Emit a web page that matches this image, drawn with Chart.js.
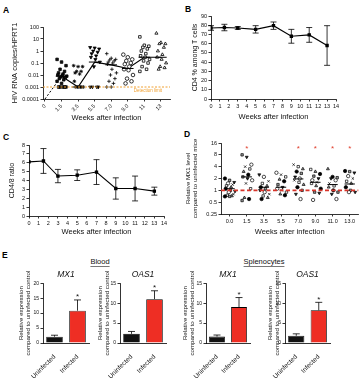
<!DOCTYPE html>
<html>
<head>
<meta charset="utf-8">
<script src="https://cdn.jsdelivr.net/npm/chart.js@4.4.1/dist/chart.umd.min.js"></script>
<style>
  body { margin: 0; background: #fff; font-family: "Liberation Sans", Arial, sans-serif; }
  #fig { position: relative; width: 363px; height: 379px; overflow: hidden; }
  canvas { position: absolute; }
  .lbl { position: absolute; font-weight: bold; font-size: 8.5px; line-height: 1; color: #000; }
  .grp { position: absolute; font-size: 7.5px; line-height: 1; color: #111; text-decoration: underline; text-decoration-color: #777; text-underline-offset: 1.5px; transform: translateX(-50%); }
</style>
</head>
<body>
<div id="fig">
  <div class="lbl" style="left:3px;top:6px">A</div>
  <div class="lbl" style="left:185px;top:5px">B</div>
  <div class="lbl" style="left:3px;top:133px">C</div>
  <div class="lbl" style="left:184px;top:130px">D</div>
  <div class="lbl" style="left:2px;top:251px">E</div>
  <div class="grp" style="left:100px;top:258px">Blood</div>
  <div class="grp" style="left:264px;top:258px">Splenocytes</div>

  <canvas id="cA" width="176" height="106" style="left:0;top:20px"></canvas>
  <canvas id="cB" width="181" height="115" style="left:182px;top:10px"></canvas>
  <canvas id="cC" width="182" height="103" style="left:0;top:137px"></canvas>
  <canvas id="cD" width="181" height="104" style="left:182px;top:136px"></canvas>
  <canvas id="cE1" width="92" height="111" style="left:0;top:268px"></canvas>
  <canvas id="cE2" width="75" height="111" style="left:95px;top:268px"></canvas>
  <canvas id="cE3" width="75" height="111" style="left:180px;top:268px"></canvas>
  <canvas id="cE4" width="80" height="111" style="left:260px;top:268px"></canvas>
</div>
<script>
// --- A: HIV RNA copies / HPRT1, one list per time point
const weeksA = ['0', '1.5', '3.5', '5.5', '7.0', '9.0', '11', '13'];
const hivWk0 = [];
const hivWk1_5 = [0.2, 0.12, 0.06, 0.03, 0.02, 0.015, 0.012, 0.01, 0.009, 0.008, 0.007, 0.006, 0.005, 0.004, 0.003, 0.002, 0.001, 0.001, 0.001, 0.001, 0.001];
const hivWk3_5 = [0.06, 0.05, 0.05, 0.02, 0.02, 0.015, 0.012, 0.003, 0.001, 0.001, 0.001, 0.001, 0.001, 0.001];
const hivWk5_5 = [2, 1.8, 1.5, 1, 0.8, 0.6, 0.4, 0.3, 0.2, 0.12, 0.05, 0.001, 0.001, 0.001, 0.001];
const hivWk7 = [0.6, 0.25, 0.2, 0.18, 0.15, 0.12, 0.1, 0.08, 0.03, 0.015, 0.01, 0.005, 0.003, 0.002, 0.001, 0.001];
const hivWk9 = [0.5, 0.3, 0.2, 0.15, 0.1, 0.08, 0.05, 0.03, 0.025, 0.01, 0.005, 0.003, 0.002];
const hivWk11 = [15, 3, 2.5, 2, 1.5, 1, 0.6, 0.4, 0.3, 0.2, 0.15, 0.1, 0.05, 0.03, 0.02];
const hivWk13 = [30, 5, 4, 4, 2, 1, 0.5, 0.3, 0.2, 0.1, 0.05, 0.04, 0.03];
const hivMeanA = [0.0001, 0.008, 0.001, 0.12, 0.07, 0.035, 0.3, 0.3];
const hivTicksA = [0.0001, 0.001, 0.01, 0.1, 1, 10, 100];
const detectionLimit = 0.001;

// --- B / C: CD4 % and CD4/8 ratio
const weeksBC = [0, 1.5, 3, 5, 7, 9, 11, 13];
const cd4Pct = [77, 77.5, 77, 75.5, 79.5, 68, 69.5, 58];
const cd4PctErr = [2.5, 3.5, 1.5, 4, 4, 7.5, 8, 21.5];
const cd48Ratio = [6.1, 6.2, 4.5, 4.6, 4.95, 3.1, 3.1, 2.8];
const cd48RatioErr = [0, 1.4, 0.75, 0.6, 1.4, 1.2, 1.4, 0.45];

// --- D: relative MX1 level, one list per time point
const weeksD = ['0.0', '1.5', '3.5', '5.5', '7.0', '9.0', '11.0', '13.0'];
const mx1Wk0 = [2, 1.8, 1.6, 1.5, 1.4, 1.3, 1.2, 1.1, 1.0, 0.95, 0.9, 0.8, 0.75, 0.72, 0.7, 0.7];
const mx1Wk1_5 = [8, 7, 4.5, 4, 3.5, 3, 2.5, 2.2, 2, 1.8, 1.5, 1.1, 0.65, 0.6, 0.55];
const mx1Wk3_5 = [2.5, 2.2, 1.7, 1.5, 1.3, 1.2, 1.1, 1.0, 0.9, 0.8, 0.72, 0.65, 0.6];
const mx1Wk5_5 = [2.8, 2.5, 2.2, 1.9, 1.7, 1.4, 1.2, 1.1, 1.0, 0.9, 0.8, 0.75];
const mx1Wk7 = [4.5, 4, 3.5, 3, 2.7, 2.2, 2, 1.8, 1.6, 1.4, 1.2, 1.0, 0.8, 0.6];
const mx1Wk9 = [3.4, 3, 2.6, 2.3, 2, 1.8, 1.6, 1.5, 1.3, 1.1, 0.9, 0.85, 0.57];
const mx1Wk11 = [3.5, 2.2, 2.1, 2, 1.8, 1.5, 1.3, 1.2, 1.0, 0.9, 0.8, 0.6];
const mx1Wk13 = [3.1, 3, 2.8, 2.3, 2, 1.7, 1.5, 1.2, 1.0, 0.9, 0.9];
const mx1MeanD = [1.1, 2.2, 1.2, 1.2, 1.95, 1.6, 1.4, 1.45];
const mx1TicksD = [0.25, 0.5, 1, 2, 4, 8, 16];
const mx1Significant = [1, 4, 5, 6, 7];

// --- E: expression vs uninfected control
const groupsE = ['Uninfected', 'Infected'];
const mx1Blood = [2.1, 10.8], mx1BloodErr = [0.5, 3.6];
const oas1Blood = [2.3, 11.0], oas1BloodErr = [0.6, 2.1];
const mx1Spleen = [1.6, 9.0], mx1SpleenErr = [0.4, 2.4];
const oas1Spleen = [1.8, 8.2], oas1SpleenErr = [0.5, 2.0];

Chart.defaults.font.family = '"Liberation Sans", Arial, sans-serif';
Chart.defaults.color = '#111';
Chart.defaults.animation = false;
Chart.defaults.events = [];
Chart.defaults.plugins.legend.display = false;
Chart.defaults.plugins.tooltip.enabled = false;

// spread points of a column sideways so they don't sit on each other
const jitter = j => (((j * 3) % 7) - 3) * 0.09 + ((Math.floor(j / 7) % 2) ? 0.045 : 0);

function ax(o) {
  return Object.assign({
    grid: { drawOnChartArea: false, tickLength: 2.5, color: '#000', lineWidth: 0.8 },
    border: { color: '#000', width: 0.8 }
  }, o, {
    ticks: Object.assign({ font: { size: 5.5 }, color: '#111', padding: 1.5, autoSkip: false }, o.ticks || {})
  });
}

const errorBars = {
  id: 'errorBars',
  afterDatasetsDraw(chart) {
    const ctx = chart.ctx;
    chart.data.datasets.forEach((ds, di) => {
      if (!ds.errors) return;
      const meta = chart.getDatasetMeta(di);
      const ys = chart.scales[meta.yAxisID];
      ctx.save();
      ctx.strokeStyle = '#000';
      ctx.lineWidth = 0.8;
      meta.data.forEach((el, i) => {
        const e = ds.errors[i];
        if (!e) return;
        const d = ds.data[i];
        const v = typeof d === 'object' ? d.y : d;
        const top = ys.getPixelForValue(v + e);
        const bot = ys.getPixelForValue(ds.upOnly ? v : v - e);
        const c = ds.cap || 3;
        ctx.beginPath();
        ctx.moveTo(el.x, top); ctx.lineTo(el.x, bot);
        ctx.moveTo(el.x - c, top); ctx.lineTo(el.x + c, top);
        if (!ds.upOnly) { ctx.moveTo(el.x - c, bot); ctx.lineTo(el.x + c, bot); }
        ctx.stroke();
      });
      ctx.restore();
    });
  }
};

const meanTicks = {
  id: 'meanTicks',
  afterDatasetsDraw(chart, args, o) {
    if (!o.means) return;
    const { ctx, scales: { x, y } } = chart;
    const unit = x.getPixelForValue(1) - x.getPixelForValue(0);
    ctx.save();
    ctx.strokeStyle = '#000';
    ctx.lineWidth = 1;
    o.means.forEach((m, i) => {
      if (m == null || (o.skip || []).includes(i)) return;
      const px = x.getPixelForValue(i), py = y.getPixelForValue(m);
      ctx.beginPath();
      ctx.moveTo(px - o.half * unit, py);
      ctx.lineTo(px + o.half * unit, py);
      ctx.stroke();
    });
    ctx.restore();
  }
};

const refLine = {
  id: 'refLine',
  afterDatasetsDraw(chart, args, o) {
    if (o.value == null) return;
    const { ctx, chartArea: { left, right } } = chart;
    const py = chart.scales.y.getPixelForValue(o.value);
    ctx.save();
    ctx.strokeStyle = o.color;
    ctx.lineWidth = o.width;
    ctx.setLineDash(o.dash);
    ctx.beginPath();
    ctx.moveTo(left, py);
    ctx.lineTo(right, py);
    ctx.stroke();
    if (o.label) {
      ctx.setLineDash([]);
      ctx.fillStyle = o.color;
      ctx.font = '4.5px "Liberation Sans", Arial, sans-serif';
      ctx.textAlign = 'right';
      ctx.textBaseline = 'top';
      ctx.fillText(o.label, right - 8, py + 2);
    }
    ctx.restore();
  }
};

const stars = {
  id: 'stars',
  afterDatasetsDraw(chart, args, o) {
    if (!o.at) return;
    const ctx = chart.ctx;
    ctx.save();
    ctx.fillStyle = o.color;
    ctx.font = o.size + 'px "Liberation Sans", Arial, sans-serif';
    ctx.textAlign = 'center';
    ctx.textBaseline = 'middle';
    o.at.forEach(i => {
      let px, py;
      if (o.onBars) {
        const ds = chart.data.datasets[0];
        px = chart.getDatasetMeta(0).data[i].x;
        py = chart.scales.y.getPixelForValue(ds.data[i] + ds.errors[i]) - 5;
      } else {
        px = chart.scales.x.getPixelForValue(i);
        py = chart.chartArea.top + 4;
      }
      ctx.fillText('*', px, py + 2);
    });
    ctx.restore();
  }
};

// ---------- A ----------
const hivColumnsA = [hivWk0, hivWk1_5, hivWk3_5, hivWk5_5, hivWk7, hivWk9, hivWk11, hivWk13];
const markA = [
  { style: 'circle', fill: '#000' },
  { style: 'rect', fill: '#111' },
  { style: 'star', fill: '#000' },
  { style: 'triangle', rot: 180, fill: '#000' },
  { style: 'cross', fill: '#000' },
  { style: 'circle', fill: '#fff' },
  { style: 'rect', fill: '#fff' },
  { style: 'triangle', fill: '#fff' }
];
const dsA = hivColumnsA.map((vals, i) => ({
  data: vals.map((v, j) => ({ x: i + jitter(j), y: v })),
  pointStyle: markA[i].style,
  pointRotation: markA[i].rot || 0,
  backgroundColor: markA[i].fill,
  borderColor: '#000',
  borderWidth: 0.8,
  pointRadius: 1.8
}));
dsA.push({
  data: hivMeanA.slice(1).map((v, i) => ({ x: i + 1, y: v })),
  showLine: true, borderColor: '#000', borderWidth: 1.2, pointRadius: 0
});
dsA.push({
  data: [{ x: 0, y: hivMeanA[0] }, { x: 1, y: hivMeanA[1] }],
  showLine: true, borderColor: '#000', borderWidth: 1, borderDash: [2, 2], pointRadius: 0
});

new Chart(document.getElementById('cA'), {
  type: 'scatter',
  data: { datasets: dsA },
  options: {
    responsive: false,
    layout: { padding: { top: 7, right: 6 } },
    plugins: {
      meanTicks: { means: hivMeanA, half: 0.35, skip: [0] },
      refLine: { value: detectionLimit, color: '#f0a030', width: 1, dash: [2, 1.5], label: 'Detection limit' }
    },
    scales: {
      x: ax({
        type: 'linear', min: -0.12, max: 7.55,
        afterBuildTicks: s => { s.ticks = weeksA.map((_, i) => ({ value: i })); },
        afterFit: s => { s.height = 27; },
        ticks: { callback: v => weeksA[v], minRotation: 45, maxRotation: 45 },
        title: { display: true, text: 'Weeks after infection', font: { size: 7.5 }, color: '#111', padding: { top: 0, bottom: 3.5 } }
      }),
      y: ax({
        type: 'logarithmic', min: 0.0001, max: 100,
        afterBuildTicks: s => { s.ticks = hivTicksA.map(v => ({ value: v })); },
        afterFit: s => { s.width = 43; },
        ticks: { callback: v => String(v) },
        title: { display: true, text: 'HIV RNA copies/HPRT1', font: { size: 7.5 }, color: '#111', padding: { top: 10.5, bottom: 0 } }
      })
    }
  },
  plugins: [meanTicks, refLine]
});

// ---------- B and C ----------
function timeLine(id, vals, errs, yMax, yStep, yTitle, geo) {
  return new Chart(document.getElementById(id), {
    type: 'scatter',
    data: {
      datasets: [{
        data: weeksBC.map((w, i) => ({ x: w, y: vals[i] })),
        errors: errs, cap: 3,
        showLine: true, borderColor: '#000', borderWidth: 1.1,
        pointStyle: 'rect', pointRadius: 1.6, backgroundColor: '#000'
      }]
    },
    options: {
      responsive: false,
      layout: { padding: { top: geo.top, right: geo.right } },
      scales: {
        x: ax({
          type: 'linear', min: 0, max: 14,
          afterFit: s => { s.height = geo.xh; },
          ticks: { stepSize: 1, maxRotation: 0 },
          title: { display: true, text: 'Weeks after infection', font: { size: 7.5 }, color: '#111', padding: { top: 0, bottom: 3.5 } }
        }),
        y: ax({
          min: 0, max: yMax,
          afterFit: s => { s.width = geo.yw; },
          ticks: { stepSize: yStep },
          title: { display: true, text: yTitle, font: { size: 7 }, color: '#111', padding: { top: geo.ytp, bottom: 0 } }
        })
      }
    },
    plugins: [errorBars]
  });
}
timeLine('cB', cd4Pct, cd4PctErr, 90, 10, 'CD4 % among T cells', { top: 6, right: 27, xh: 26, yw: 29, ytp: 8.8 });
timeLine('cC', cd48Ratio, cd48RatioErr, 8, 1, 'CD4/8 ratio', { top: 8, right: 18, xh: 24, yw: 29, ytp: 7.8 });

// ---------- D ----------
const mx1ColumnsD = [mx1Wk0, mx1Wk1_5, mx1Wk3_5, mx1Wk5_5, mx1Wk7, mx1Wk9, mx1Wk11, mx1Wk13];
const markD = [
  { style: 'circle', fill: '#000', rot: 0 },
  { style: 'rect', fill: '#9a9a9a', rot: 0 },
  { style: 'triangle', fill: '#222', rot: 180 },
  { style: 'circle', fill: '#fff', rot: 0 },
  { style: 'crossRot', fill: '#000', rot: 0 },
  { style: 'rect', fill: '#fff', rot: 0 },
  { style: 'triangle', fill: '#9a9a9a', rot: 0 }
];
const dsD = mx1ColumnsD.map((vals, i) => ({
  data: vals.map((v, j) => ({ x: i + jitter(j), y: v })),
  pointStyle: vals.map((_, j) => markD[(j + i) % markD.length].style),
  pointRotation: vals.map((_, j) => markD[(j + i) % markD.length].rot),
  backgroundColor: vals.map((_, j) => markD[(j + i) % markD.length].fill),
  borderColor: '#000',
  borderWidth: 0.7,
  pointRadius: 1.7
}));

new Chart(document.getElementById('cD'), {
  type: 'scatter',
  data: { datasets: dsD },
  options: {
    responsive: false,
    layout: { padding: { top: 7, right: 3 } },
    plugins: {
      meanTicks: { means: mx1MeanD, half: 0.3 },
      refLine: { value: 1, color: '#d8342a', width: 1.8, dash: [4, 2.5] },
      stars: { at: mx1Significant, color: '#e0402f', size: 8 }
    },
    scales: {
      x: ax({
        type: 'linear', min: -0.5, max: 7.5,
        afterBuildTicks: s => { s.ticks = weeksD.map((_, i) => ({ value: i })); },
        afterFit: s => { s.height = 26; },
        ticks: { callback: v => weeksD[v], maxRotation: 0 },
        title: { display: true, text: 'Weeks after infection', font: { size: 7.5 }, color: '#111', padding: { top: 0, bottom: 3.5 } }
      }),
      y: ax({
        type: 'logarithmic', min: 0.25, max: 16,
        afterBuildTicks: s => { s.ticks = mx1TicksD.map(v => ({ value: v })); },
        afterFit: s => { s.width = 39; },
        ticks: { callback: v => String(v) },
        title: { display: true, text: ['Relative MX1 level', 'compared to uninfected mice'], font: { size: 6.2 }, color: '#111', padding: { top: 2.3, bottom: 0 } }
      })
    }
  },
  plugins: [meanTicks, refLine, stars]
});

// ---------- E ----------
function exprBars(id, title, vals, errs, yMax, geo) {
  return new Chart(document.getElementById(id), {
    type: 'bar',
    data: {
      labels: groupsE,
      datasets: [{
        data: vals, errors: errs, upOnly: true, cap: 3.5,
        backgroundColor: ['#111', '#ee2e24'],
        borderColor: '#000', borderWidth: 0.8,
        categoryPercentage: 1, barPercentage: 0.72
      }]
    },
    options: {
      responsive: false,
      layout: { padding: { top: 0, right: geo.right } },
      plugins: {
        title: { display: true, text: title, fullSize: false, color: '#111', font: { size: 8.5, style: 'italic', weight: 'normal' }, padding: { top: 2, bottom: 3 } },
        stars: { at: [1], onBars: true, color: '#111', size: 8 }
      },
      scales: {
        x: ax({
          grid: { display: false },
          afterFit: s => { s.height = 36; },
          ticks: { minRotation: 45, maxRotation: 45, font: { size: 6.5 }, padding: 2 }
        }),
        y: ax({
          min: 0, max: yMax,
          afterFit: s => { s.width = geo.yw; },
          ticks: { stepSize: 5, font: { size: 5 } },
          title: { display: true, text: ['Relative expression', 'compared to uninfected control'], font: { size: 6.2 }, color: '#111', padding: { top: geo.ytp, bottom: 0 } }
        })
      }
    },
    plugins: [errorBars, stars]
  });
}
exprBars('cE1', 'MX1', mx1Blood, mx1BloodErr, 20, { right: 3, yw: 43, ytp: 17.3 });
exprBars('cE2', 'OAS1', oas1Blood, oas1BloodErr, 15, { right: 4, yw: 25, ytp: 1.3 });
exprBars('cE3', 'MX1', mx1Spleen, mx1SpleenErr, 15, { right: 5, yw: 26, ytp: 1.3 });
exprBars('cE4', 'OAS1', oas1Spleen, oas1SpleenErr, 15, { right: 10, yw: 25, ytp: 6.3 });
</script>
</body>
</html>
